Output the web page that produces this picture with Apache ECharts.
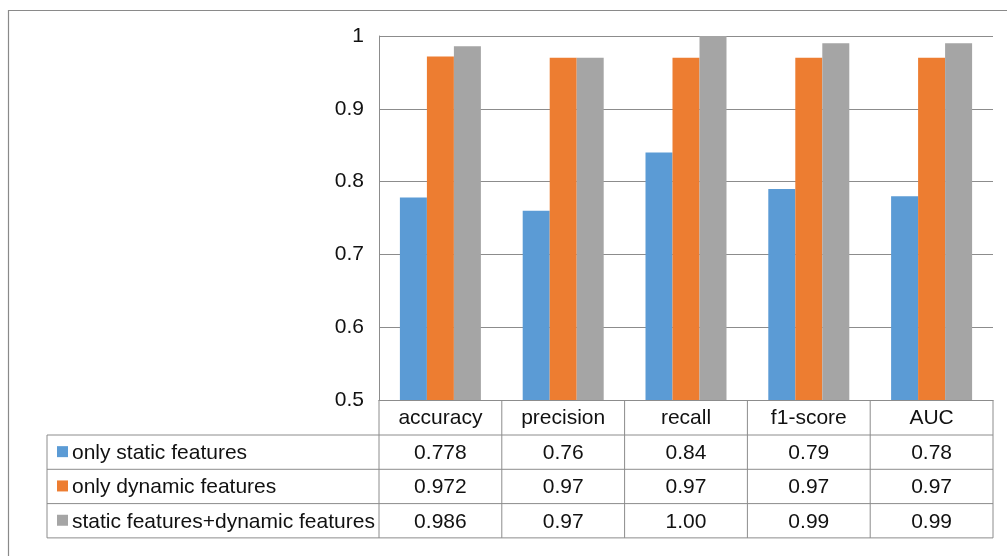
<!DOCTYPE html>
<html>
<head>
<meta charset="utf-8">
<script src="https://cdn.jsdelivr.net/npm/echarts@6/dist/echarts.min.js"></script>
<style>
  html, body { margin: 0; padding: 0; background: #fff; }
  #chart { width: 1007px; height: 556px; }
</style>
</head>
<body>
<div id="chart"></div>
<script>
// Metrics compared across the three feature sets
const categories = ['accuracy', 'precision', 'recall', 'f1-score', 'AUC'];
const seriesNames = ['only static features', 'only dynamic features', 'static features+dynamic features'];
const staticVals = [0.778, 0.76, 0.84, 0.79, 0.78];
const dynamicVals = [0.972, 0.97, 0.97, 0.97, 0.97];
const combinedVals = [0.986, 0.97, 1.00, 0.99, 0.99];
// Text shown in the data table under the plot
const staticLabels = ['0.778', '0.76', '0.84', '0.79', '0.78'];
const dynamicLabels = ['0.972', '0.97', '0.97', '0.97', '0.97'];
const combinedLabels = ['0.986', '0.97', '1.00', '0.99', '0.99'];
const yTicks = { min: 0.5, max: 1, interval: 0.1 };

const colors = ['#5B9BD5', '#ED7D31', '#A5A5A5'];
const FONT = '"Liberation Sans", Arial, sans-serif';
const lineColor = '#8c8c8c';
const textColor = '#111111';

const chart = echarts.init(document.getElementById('chart'), null, { renderer: 'canvas' });

const valueSets = [staticVals, dynamicVals, combinedVals];
chart.setOption({
  animation: false,
  color: colors,
  grid: { left: 379, top: 36, right: 14, bottom: 156, containLabel: false },
  xAxis: {
    type: 'category',
    data: categories,
    axisLine: { show: true, lineStyle: { color: lineColor, width: 1 } },
    axisTick: { show: false },
    axisLabel: { show: false },
    splitLine: { show: false }
  },
  yAxis: {
    type: 'value',
    min: yTicks.min,
    max: yTicks.max,
    interval: yTicks.interval,
    axisLine: { show: true, lineStyle: { color: lineColor, width: 1 } },
    axisTick: { show: false },
    axisLabel: {
      margin: 15,
      fontFamily: FONT,
      fontSize: 21,
      color: textColor,
      formatter: v => String(Math.round(v * 10) / 10)
    },
    splitLine: { show: true, lineStyle: { color: lineColor, width: 1 } }
  },
  series: seriesNames.map((name, i) => ({
    name,
    type: 'bar',
    data: valueSets[i],
    barWidth: 27,
    barGap: '0%',
    itemStyle: { color: colors[i] }
  }))
});

// Data table beneath the plot, laid out from the axis scale
function buildTable() {
  const c0 = chart.convertToPixel({ xAxisIndex: 0 }, 0);
  const c1 = chart.convertToPixel({ xAxisIndex: 0 }, 1);
  const band = c1 - c0;
  const left = c0 - band / 2;
  const right = left + band * categories.length;
  const yBase = chart.convertToPixel({ yAxisIndex: 0 }, yTicks.min);
  const legendLeft = 47;
  const rowH = 34.3;
  const headerBottom = yBase + 35;
  const rowTops = [headerBottom, headerBottom + rowH, headerBottom + 2 * rowH];
  const tableBottom = headerBottom + 3 * rowH;

  const g = [];
  const line = (x1, y1, x2, y2) => g.push({
    type: 'line',
    shape: { x1, y1, x2, y2 },
    style: { stroke: lineColor, lineWidth: 1 },
    silent: true
  });
  const text = (x, y, t, align) => g.push({
    type: 'text',
    x, y,
    style: {
      text: t,
      fill: textColor,
      font: '21px ' + FONT,
      textAlign: align,
      textVerticalAlign: 'middle'
    },
    silent: true
  });

  // outer chart frame
  g.push({
    type: 'rect',
    shape: { x: 8.5, y: 10.5, width: 1100, height: 700 },
    style: { fill: null, stroke: '#8a8a8a', lineWidth: 1.2 },
    silent: true
  });

  // horizontal rules
  line(left, headerBottom, right, headerBottom);
  line(legendLeft, headerBottom, left, headerBottom);
  for (let r = 1; r <= 3; r++) {
    const y = headerBottom + r * rowH;
    line(legendLeft, y, right, y);
  }
  // vertical rules
  line(left, yBase, left, tableBottom);
  for (let k = 1; k <= categories.length; k++) {
    const x = left + k * band;
    line(x, yBase, x, tableBottom);
  }
  line(legendLeft, headerBottom, legendLeft, tableBottom);

  // header: category names
  categories.forEach((c, k) => text(left + band * (k + 0.5), (yBase + headerBottom) / 2 + 1, c, 'center'));

  // rows: legend key + values
  const rowLabels = [staticLabels, dynamicLabels, combinedLabels];
  seriesNames.forEach((name, r) => {
    const yMid = rowTops[r] + rowH / 2;
    g.push({
      type: 'rect',
      shape: { x: 57, y: yMid - 6, width: 11, height: 11 },
      style: { fill: colors[r] },
      silent: true
    });
    text(72, yMid + 1, name, 'left');
    rowLabels[r].forEach((v, k) => text(left + band * (k + 0.5), yMid + 1, v, 'center'));
  });

  chart.setOption({ graphic: g });
}
buildTable();
</script>
</body>
</html>
